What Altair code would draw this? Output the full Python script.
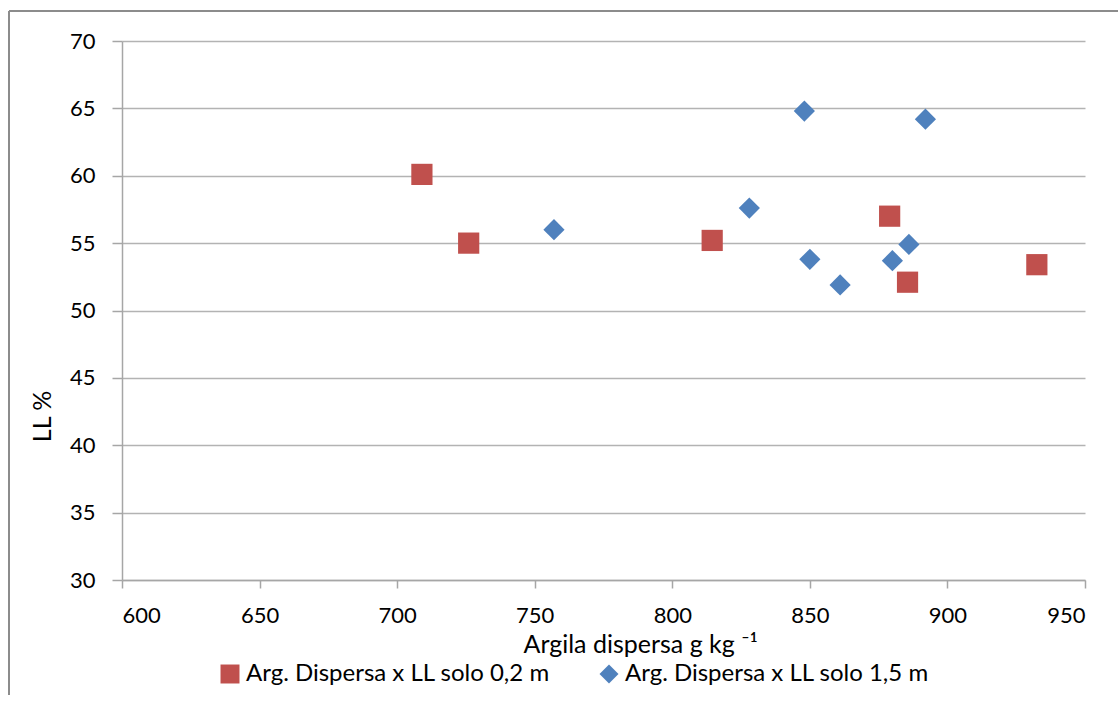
import altair as alt
import pandas as pd

series_a = "Arg. Dispersa x LL solo 0,2 m"
series_b = "Arg. Dispersa x LL solo 1,5 m"

x_02 = [709, 726, 814.5, 879, 885.5, 932.5]
y_02 = [60.1, 55.0, 55.2, 57.0, 52.1, 53.4]

x_15 = [757, 828, 848, 850, 861, 880, 886, 892]
y_15 = [56.0, 57.6, 64.8, 53.8, 51.9, 53.7, 54.9, 64.2]

x_ticks = [600, 650, 700, 750, 800, 850, 900, 950]
y_ticks = [30, 35, 40, 45, 50, 55, 60, 65, 70]

df = pd.DataFrame({
    "x": x_02 + x_15,
    "y": y_02 + y_15,
    "s": [series_a] * len(x_02) + [series_b] * len(x_15),
})

FONT = "Lato"

legend_common = dict(title=None, orient="none", direction="horizontal",
                     legendX=96, legendY=621, padding=0,
                     symbolSize=360, labelOffset=4, columnPadding=47,
                     labelFontSize=24, labelFont=FONT, labelLimit=0,
                     labelColor="#000000")

points = alt.Chart(df).mark_point(filled=True, opacity=1, size=450).encode(
    x=alt.X("x:Q", scale=alt.Scale(domain=[600, 950], nice=False, zero=False),
            axis=alt.Axis(values=x_ticks, title="Argila dispersa g kg \u207b\u00b9",
                          grid=False, tickSize=8, labelPadding=17,
                          titleAnchor="start", titleAlign="left", titleX=401,
                          titleY=72, titleBaseline="alphabetic")),
    y=alt.Y("y:Q", scale=alt.Scale(domain=[30, 70], nice=False, zero=False),
            axis=alt.Axis(values=y_ticks, title="LL %", grid=True, tickSize=10,
                          labelPadding=17, titleX=-80, titleY=375,
                          titleAngle=-90, titleAlign="center",
                          titleBaseline="middle")),
    color=alt.Color("s:N", scale=alt.Scale(domain=[series_a, series_b],
                                           range=["#C0504D", "#4F81BD"]),
                    legend=alt.Legend(**legend_common)),
    shape=alt.Shape("s:N", scale=alt.Scale(domain=[series_a, series_b],
                                           range=["square", "diamond"]),
                    legend=alt.Legend(**legend_common)),
)

one = pd.DataFrame({"a": [0]})
frame_top = alt.Chart(one).mark_rule(stroke="#8c8c8c", strokeWidth=2).encode(
    x=alt.value(-113), x2=alt.value(1100), y=alt.value(-30))
frame_left = alt.Chart(one).mark_rule(stroke="#8c8c8c", strokeWidth=2).encode(
    x=alt.value(-113), y=alt.value(-30), y2=alt.value(760))

chart = alt.layer(frame_top, frame_left, points).properties(
    width=963, height=539,
    background="white",
    autosize=alt.AutoSizeParams(type="none"),
    padding={"left": 122, "top": 41, "right": 33, "bottom": 115},
).configure_view(stroke=None).configure_axis(
    labelFont=FONT, labelFontSize=22, labelColor="#000000",
    titleFont=FONT, titleFontSize=25, titleColor="#000000", titleFontWeight="normal",
    domainColor="#a6a6a6", tickColor="#a6a6a6", gridColor="#b3b3b3",
    domainWidth=1.5, tickWidth=1.5, gridWidth=1.5,
)

chart.save("out.html", embed_options={"renderer": "svg", "actions": False})
